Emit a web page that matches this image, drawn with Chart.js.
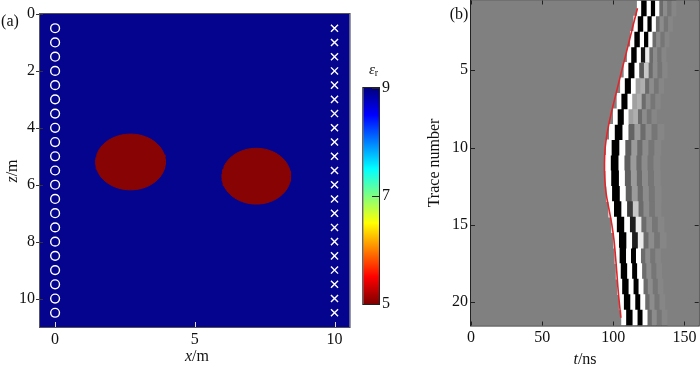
<!DOCTYPE html>
<html>
<head>
<meta charset="utf-8">
<script src="https://cdn.jsdelivr.net/npm/chart.js@4.4.1/dist/chart.umd.min.js"></script>
<style>
  html, body { margin: 0; padding: 0; background: #fff; }
  #wrap { position: relative; width: 700px; height: 368px; overflow: hidden; }
  canvas { position: absolute; top: 0; }
</style>
</head>
<body>
<div id="wrap">
  <canvas id="mapChart" width="356" height="368" style="left:0"></canvas>
  <canvas id="barChart" width="64" height="368" style="left:356px"></canvas>
  <canvas id="traceChart" width="280" height="368" style="left:420px"></canvas>
</div>
<script>
// panel (a): model
const xTicks = [0, 5, 10];
const zTicks = [0, 2, 4, 6, 8, 10];
const sourceDepths = [0.5, 1, 1.5, 2, 2.5, 3, 3.5, 4, 4.5, 5, 5.5, 6, 6.5, 7, 7.5, 8, 8.5, 9, 9.5, 10, 10.5];
const sourceX = 0;
const receiverX = 10;
const anomalyX = [2.7, 7.2];
const anomalyZ = [5.2, 5.7];
const anomalyRx = [1.25, 1.23];
const anomalyRz = [0.98, 0.98];
const epsTicks = [5, 7, 9];

// panel (b): traces
const traceNumbers = [1, 2, 3, 4, 5, 6, 7, 8, 9, 10, 11, 12, 13, 14, 15, 16, 17, 18, 19, 20, 21];
const traceTicks = [5, 10, 15, 20];
const timeTicks = [0, 50, 100, 150];
const pickTimes = [117.0, 114.2, 111.5, 108.8, 106.0, 103.3, 100.6, 98.0, 95.8, 94.3, 93.8, 94.0, 95.0, 97.0, 99.0, 100.5, 101.5, 102.4, 103.2, 104.2, 105.3];
const waveStart = [116.8, 114.4, 112.0, 109.8, 107.5, 105.0, 102.6, 100.0, 97.2, 95.0, 94.4, 94.7, 95.3, 96.8, 98.8, 100.3, 101.2, 102.0, 103.0, 104.2, 105.8];
const waveStretch = [0.85, 0.85, 0.85, 0.85, 0.95, 0.95, 0.95, 0.95, 1.2, 1.2, 1.2, 1.2, 1.2, 1.15, 1.15, 1.15, 1.0, 1.0, 1.0, 1.0, 1.0];
const secondDark = [0, 0, 0, 20, 90, 160, 160, 160, 100, 95, 95, 95, 95, 60, 30, 30, 0, 0, 0, 0, 0];
const secondBright = [255, 255, 255, 235, 200, 175, 175, 175, 155, 155, 155, 155, 155, 200, 235, 235, 255, 255, 255, 255, 255];
const bandEdges = [0, 3, 7.5, 11, 14.5, 18, 21, 24.5, 28, 32];
const tailLevels = [108, 140, 118, 134];

const serif = '"Liberation Serif", "Times New Roman", serif';
const tickFont = { family: serif, size: 16 };

Chart.defaults.font.family = serif;
Chart.defaults.font.size = 16;
Chart.defaults.color = '#111';
Chart.defaults.animation = false;
Chart.defaults.plugins.legend.display = false;
Chart.defaults.plugins.tooltip.enabled = false;

function drawText(ctx, parts, x, y, angle) {
  ctx.save();
  ctx.translate(x, y);
  if (angle) ctx.rotate(angle);
  ctx.textBaseline = 'middle';
  ctx.textAlign = 'left';
  ctx.fillStyle = '#111';
  let w = 0;
  parts.forEach(p => {
    ctx.font = (p.i ? 'italic ' : '') + (p.s || 16) + 'px ' + serif;
    w += ctx.measureText(p.t).width;
  });
  let cx = -w / 2;
  parts.forEach(p => {
    ctx.font = (p.i ? 'italic ' : '') + (p.s || 16) + 'px ' + serif;
    ctx.fillText(p.t, cx, p.dy || 0);
    cx += ctx.measureText(p.t).width;
  });
  ctx.restore();
}

function gray(v) {
  return 'rgb(' + v + ',' + v + ',' + v + ')';
}

function noPad(s) {
  s.paddingTop = 0;
  s.paddingBottom = 0;
  s.paddingLeft = 0;
  s.paddingRight = 0;
}

// ---------- panel (a) ----------
const ellipseSets = anomalyX.map((cx, k) => {
  const pts = [];
  for (let a = 0; a <= 360; a += 5) {
    const r = a * Math.PI / 180;
    pts.push({ x: cx + anomalyRx[k] * Math.cos(r), y: anomalyZ[k] + anomalyRz[k] * Math.sin(r) });
  }
  return {
    data: pts,
    showLine: true,
    fill: 'shape',
    backgroundColor: '#880404',
    borderColor: '#880404',
    borderWidth: 1,
    pointRadius: 0,
    tension: 0,
    order: 2
  };
});

const mapFrame = {
  id: 'mapFrame',
  beforeDatasetsDraw(chart) {
    const { ctx, chartArea: a } = chart;
    ctx.save();
    ctx.fillStyle = '#04048e';
    ctx.fillRect(a.left, a.top, a.width, a.height);
    ctx.restore();
  },
  afterDraw(chart) {
    const { ctx, chartArea: a, scales } = chart;
    ctx.save();
    ctx.lineWidth = 1;
    ctx.strokeStyle = '#333';
    zTicks.forEach(v => {
      const y = Math.round(scales.y.getPixelForValue(v)) + 0.5;
      ctx.beginPath();
      ctx.moveTo(a.left - 4, y);
      ctx.lineTo(a.left + 3, y);
      ctx.stroke();
    });
    ctx.strokeStyle = '#ddd';
    xTicks.forEach(v => {
      const x = Math.round(scales.x.getPixelForValue(v)) + 0.5;
      ctx.beginPath();
      ctx.moveTo(x, a.bottom);
      ctx.lineTo(x, a.bottom - 5);
      ctx.stroke();
    });
    ctx.strokeStyle = '#555';
    ctx.strokeRect(a.left - 0.5, a.top - 0.5, a.width + 1, a.height + 1);
    ctx.restore();
    drawText(ctx, [{ t: '(a)' }], 10, 22);
    drawText(ctx, [{ t: 'z', i: true }, { t: '/m' }], 13, 171, -Math.PI / 2);
    drawText(ctx, [{ t: 'x', i: true }, { t: '/m' }], 197, 357);
  }
};

new Chart(document.getElementById('mapChart'), {
  type: 'scatter',
  data: {
    datasets: [
      {
        data: sourceDepths.map(z => ({ x: sourceX, y: z })),
        pointStyle: 'circle',
        pointRadius: 4.4,
        pointBorderColor: '#fff',
        pointBackgroundColor: 'rgba(0,0,0,0)',
        pointBorderWidth: 1.4,
        order: 0
      },
      {
        data: sourceDepths.map(z => ({ x: receiverX, y: z })),
        pointStyle: 'crossRot',
        pointRadius: 5,
        pointBorderColor: '#fff',
        pointBorderWidth: 1.4,
        order: 0
      },
      ...ellipseSets
    ]
  },
  options: {
    responsive: false,
    layout: { padding: { top: 14, right: 4, left: 0, bottom: 0 } },
    scales: {
      x: {
        type: 'linear', min: -0.54, max: 10.54,
        grid: { display: false, drawTicks: false },
        border: { display: false },
        ticks: { padding: 3, font: tickFont, color: '#111' },
        afterBuildTicks: s => { s.ticks = xTicks.map(v => ({ value: v })); },
        afterFit: s => { s.height = 41; noPad(s); }
      },
      y: {
        type: 'linear', min: 0, max: 11, reverse: true,
        grid: { display: false, drawTicks: false },
        border: { display: false },
        ticks: { padding: 5, font: tickFont, color: '#111' },
        afterBuildTicks: s => { s.ticks = zTicks.map(v => ({ value: v })); },
        afterFit: s => { s.width = 40; noPad(s); }
      }
    }
  },
  plugins: [mapFrame]
});

// ---------- colorbar ----------
const jetStops = [[0, '#00007f'], [0.125, '#0000ff'], [0.375, '#00ffff'], [0.625, '#ffff00'], [0.875, '#ff0000'], [1, '#7f0000']];

const barFrame = {
  id: 'barFrame',
  afterDraw(chart) {
    const { ctx, chartArea: a, scales } = chart;
    ctx.save();
    ctx.lineWidth = 1;
    ctx.strokeStyle = '#222';
    epsTicks.forEach(v => {
      const y = Math.round(scales.y.getPixelForValue(v)) + 0.5;
      ctx.beginPath();
      ctx.moveTo(a.right, y);
      ctx.lineTo(a.right - 7, y);
      ctx.stroke();
    });
    ctx.strokeRect(a.left - 0.5, a.top - 0.5, a.width + 1, a.height + 1);
    ctx.restore();
    drawText(ctx, [{ t: 'ε', i: true, s: 15 }, { t: 'r', s: 10, dy: 3 }], 17.5, 70);
  }
};

new Chart(document.getElementById('barChart'), {
  type: 'bar',
  data: {
    labels: ['eps'],
    datasets: [{
      data: [[epsTicks[0], epsTicks[epsTicks.length - 1]]],
      barPercentage: 1,
      categoryPercentage: 1,
      borderWidth: 0,
      backgroundColor: c => {
        const a = c.chart.chartArea;
        if (!a) return '#00007f';
        const g = c.chart.ctx.createLinearGradient(0, a.top, 0, a.bottom);
        jetStops.forEach(s => g.addColorStop(s[0], s[1]));
        return g;
      }
    }]
  },
  options: {
    responsive: false,
    layout: { padding: { top: 88, right: 0, left: 7.3, bottom: 64 } },
    scales: {
      x: { display: false },
      y: {
        position: 'right', min: 5, max: 9,
        grid: { display: false, drawTicks: false },
        border: { display: false },
        ticks: { padding: 3, font: tickFont, color: '#111' },
        afterBuildTicks: s => { s.ticks = epsTicks.map(v => ({ value: v })); },
        afterFit: s => { s.width = 41; noPad(s); }
      }
    }
  },
  plugins: [barFrame]
});

// ---------- panel (b) ----------
const bandSets = [];
for (let j = 0; j < bandEdges.length - 1; j++) {
  bandSets.push({
    type: 'bar',
    indexAxis: 'y',
    grouped: false,
    barPercentage: 1,
    categoryPercentage: 1,
    borderWidth: 0,
    order: 1,
    data: traceNumbers.map((n, i) => [
      waveStart[i] + bandEdges[j] * waveStretch[i],
      waveStart[i] + bandEdges[j + 1] * waveStretch[i]
    ]),
    backgroundColor: traceNumbers.map((n, i) => {
      if (j === 0 || j === 2) return gray(255);
      if (j === 1) return gray(0);
      if (j === 3) return gray(secondDark[i]);
      if (j === 4) return gray(secondBright[i]);
      return gray(tailLevels[j - 5]);
    })
  });
}

const traceFrame = {
  id: 'traceFrame',
  beforeDatasetsDraw(chart) {
    const { ctx, chartArea: a } = chart;
    ctx.save();
    ctx.fillStyle = '#808080';
    ctx.fillRect(a.left, a.top, a.width, a.height);
    ctx.restore();
  },
  afterDraw(chart) {
    const { ctx, chartArea: a, scales } = chart;
    ctx.save();
    ctx.lineWidth = 1;
    ctx.strokeStyle = '#222';
    timeTicks.forEach(v => {
      const x = Math.round(scales.x.getPixelForValue(v)) + 0.5;
      ctx.beginPath();
      ctx.moveTo(x, a.bottom); ctx.lineTo(x, a.bottom - 4);
      ctx.moveTo(x, a.top); ctx.lineTo(x, a.top + 4);
      ctx.stroke();
    });
    traceTicks.forEach(v => {
      const y = Math.round(scales.y.getPixelForValue(traceNumbers.indexOf(v))) + 0.5;
      ctx.beginPath();
      ctx.moveTo(a.left, y); ctx.lineTo(a.left + 4, y);
      ctx.moveTo(a.right, y); ctx.lineTo(a.right - 4, y);
      ctx.stroke();
    });
    ctx.strokeRect(a.left - 0.5, a.top - 0.5, a.width + 1, a.height + 1);
    ctx.restore();
    drawText(ctx, [{ t: '(b)' }], 39, 15);
    drawText(ctx, [{ t: 'Trace number' }], 15, 163, -Math.PI / 2);
    drawText(ctx, [{ t: 't', i: true }, { t: '/ns' }], 165, 360);
  }
};

new Chart(document.getElementById('traceChart'), {
  type: 'bar',
  data: {
    labels: traceNumbers.map(String),
    datasets: [
      {
        type: 'line',
        indexAxis: 'y',
        data: pickTimes.map((t, i) => ({ x: t, y: String(traceNumbers[i]) })),
        borderColor: '#e0262a',
        borderWidth: 1.6,
        pointRadius: 0,
        tension: 0.4,
        fill: false,
        order: 0
      },
      ...bandSets
    ]
  },
  options: {
    responsive: false,
    indexAxis: 'y',
    layout: { padding: { top: 0.5, right: 1.3, left: 0, bottom: 0 } },
    scales: {
      x: {
        type: 'linear', min: 0, max: 160,
        grid: { display: false, drawTicks: false },
        border: { display: false },
        ticks: { padding: 3, font: tickFont, color: '#111' },
        afterBuildTicks: s => { s.ticks = timeTicks.map(v => ({ value: v })); },
        afterFit: s => { s.height = 42.5; noPad(s); }
      },
      y: {
        type: 'category', offset: true,
        grid: { display: false, drawTicks: false },
        border: { display: false },
        ticks: {
          padding: 3,
          autoSkip: false,
          font: tickFont,
          color: '#111',
          callback: (v, idx) => traceTicks.includes(traceNumbers[idx]) ? String(traceNumbers[idx]) : null
        },
        afterFit: s => { s.width = 51; noPad(s); }
      }
    }
  },
  plugins: [traceFrame]
});
</script>
</body>
</html>
